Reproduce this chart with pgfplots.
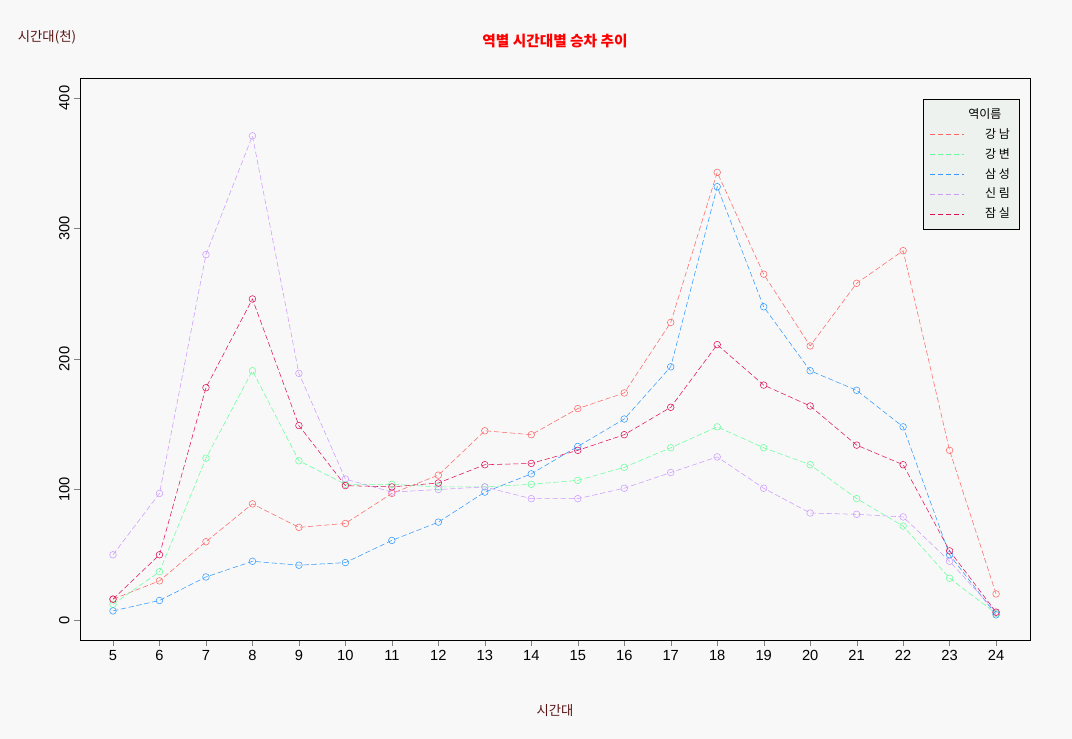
\documentclass[border=0pt]{standalone}
\usepackage{pgfplots}
\pgfplotsset{compat=1.18}
\usepackage{fontspec}
\setmainfont{Liberation Sans}
\newfontfamily\kr{Noto Sans CJK KR}
\definecolor{cA}{HTML}{FF6666}
\definecolor{cB}{HTML}{66FF99}
\definecolor{cC}{HTML}{3399FF}
\definecolor{cD}{HTML}{CC99FF}
\definecolor{cE}{HTML}{E0105A}
\definecolor{bg}{HTML}{F8F8F8}
\begin{document}
\begin{tikzpicture}
\fill[bg] (0pt,0pt) rectangle (804pt,554.25pt);
\node[font=\kr\bfseries\fontsize{11}{13}\selectfont,text=red] at (416.25pt,523.5pt) {역별 시간대별 승차 추이};
\node[font=\kr\fontsize{10}{12}\selectfont,text={rgb,255:red,90;green,20;blue,20}] at (35.25pt,526.5pt) {시간대(천)};
\node[font=\kr\fontsize{10}{12}\selectfont,text={rgb,255:red,90;green,20;blue,20}] at (416.25pt,21pt) {시간대};
\begin{axis}[at={(60pt,74.25pt)},anchor=south west,scale only axis,
 width=712.5pt,height=421.5pt,
 xmin=4.29,xmax=24.73,ymin=-15.3,ymax=415.3,
 xtick={5,...,24},ytick={0,100,200,300,400},
 tick align=outside,tick pos=left,
 axis background/.style={fill=bg},
 /pgf/number format/assume math mode=true,
 ticklabel style={font=\fontsize{11}{13}\selectfont},
 yticklabel style={rotate=90,anchor=south},
 every axis plot/.append style={dash pattern=on 4pt off 2pt,mark=o,mark size=2.5pt,mark options={solid},thin},
 legend image code/.code={\draw[#1,mark=none,dash pattern=on 4pt off 2pt] (0cm,0cm) -- (0.9cm,0cm);},
 legend style={at={(0.989,0.963)},anchor=north east,fill={rgb,255:red,238;green,242;blue,238},draw=black,
   font=\kr\fontsize{9}{11}\selectfont,row sep=2pt,inner sep=5pt},
 legend cell align=right,
]
\addlegendimage{empty legend}\addlegendentry{\hspace{-4.5em}역이름\hspace{1em}}
\addplot[cA] coordinates {(5,16)(6,30)(7,60)(8,89)(9,71)(10,74)(11,97)(12,111)(13,145)(14,142)(15,162)(16,174)(17,228)(18,343)(19,265)(20,210)(21,258)(22,283)(23,130)(24,20)};
\addlegendentry{\hspace{1.5em}강 남}
\addplot[cB] coordinates {(5,12)(6,37)(7,124)(8,191)(9,122)(10,104)(11,104)(12,102)(13,102)(14,104)(15,107)(16,117)(17,132)(18,148)(19,132)(20,119)(21,93)(22,72)(23,32)(24,5)};
\addlegendentry{\hspace{1.5em}강 변}
\addplot[cC] coordinates {(5,7)(6,15)(7,33)(8,45)(9,42)(10,44)(11,61)(12,75)(13,98)(14,112)(15,133)(16,154)(17,194)(18,332)(19,240)(20,191)(21,176)(22,148)(23,50)(24,4)};
\addlegendentry{\hspace{1.5em}삼 성}
\addplot[cD] coordinates {(5,50)(6,97)(7,280)(8,371)(9,189)(10,108)(11,98)(12,100)(13,102)(14,93)(15,93)(16,101)(17,113)(18,125)(19,101)(20,82)(21,81)(22,79)(23,45)(24,6)};
\addlegendentry{\hspace{1.5em}신 림}
\addplot[cE] coordinates {(5,16)(6,50)(7,178)(8,246)(9,149)(10,103)(11,102)(12,105)(13,119)(14,120)(15,130)(16,142)(17,163)(18,211)(19,180)(20,164)(21,134)(22,119)(23,53)(24,6)};
\addlegendentry{\hspace{1.5em}잠 실}
\end{axis}
\end{tikzpicture}
\end{document}
